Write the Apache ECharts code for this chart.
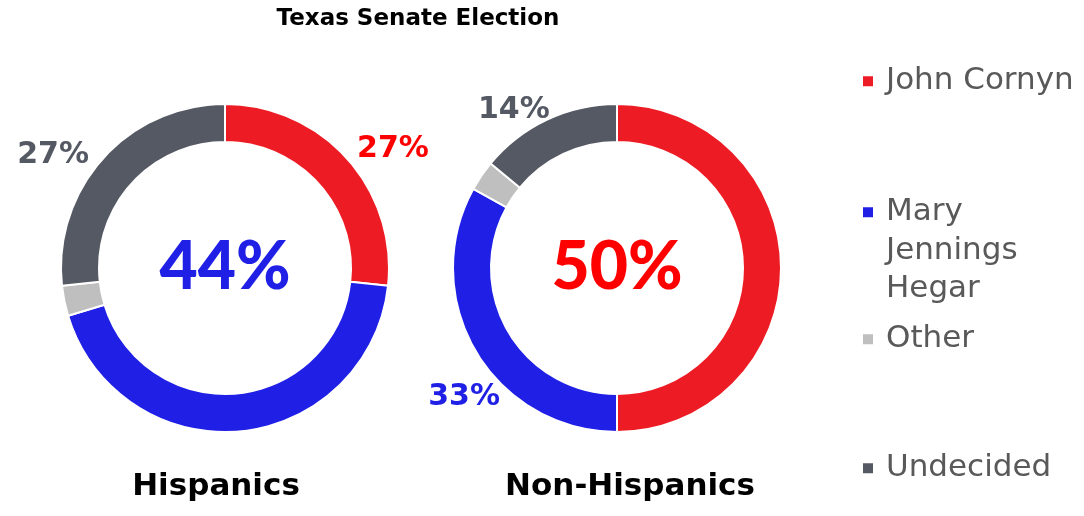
<!DOCTYPE html>
<html>
<head>
<meta charset="utf-8">
<script src="https://cdn.jsdelivr.net/npm/echarts@6/dist/echarts.min.js"></script>
<style>
  html, body { margin: 0; padding: 0; background: #fff; }
  #chart { width: 1084px; height: 516px; }
</style>
</head>
<body>
<div id="chart"></div>
<script>
const chartTitle = 'Texas Senate Election';
const categories = ['John Cornyn', 'Mary Jennings Hegar', 'Other', 'Undecided'];
const groupNames = ['Hispanics', 'Non-Hispanics'];
const hispanicValues = [27, 44, 3, 27];
const nonHispanicValues = [50, 33, 3, 14];
const centerIndex = [1, 0];          // slice whose value is written in the hole
const hiddenLabelIndex = 2;          // "Other" has no label

const sliceColors = ['#ED1C24', '#1F1FE6', '#BFBFBF', '#545964'];
const labelColors = ['#FF0000', '#1F1FE6', '#BFBFBF', '#545964'];
const FONT = 'DejaVu Sans';
const CENTER_FONT = 'Lato';

// small nudges of the outside labels (per slice index)
const hispanicNudge = [[-1, -4], [0, 0], [0, 0], [-3, 2]];
const nonHispanicNudge = [[0, 0], [36, 42], [0, 0], [11, -2]];

function buildData(values, cIdx) {
  return values.map((v, i) => {
    const item = { name: categories[i], value: v, itemStyle: { color: sliceColors[i] } };
    if (i === hiddenLabelIndex) {
      item.label = { show: false };
    } else if (i === cIdx) {
      item.label = { show: true, position: 'center', fontSize: 66, fontWeight: 900, color: labelColors[i], fontFamily: CENTER_FONT };
    } else {
      item.label = { show: true, position: 'outside', fontSize: 30, fontWeight: 'bold', color: labelColors[i], fontFamily: FONT };
    }
    return item;
  });
}

function pieSeries(values, cIdx, cx, name, nudge) {
  return {
    type: 'pie',
    name: name,
    center: [cx, 268],
    radius: [126, 164],
    startAngle: 90,
    clockwise: true,
    avoidLabelOverlap: false,
    silent: true,
    itemStyle: { borderColor: '#fff', borderWidth: 2 },
    label: { formatter: p => Math.round(p.value) + '%' },
    labelLine: { show: false, length: 8, length2: 0 },
    labelLayout: p => ({ dx: nudge[p.dataIndex][0], dy: nudge[p.dataIndex][1] }),
    data: buildData(values, cIdx)
  };
}

const legendTops = [57, 111, 315, 444];

const chart = echarts.init(document.getElementById('chart'));
chart.setOption({
  animation: false,
  title: [
    { text: chartTitle, left: 418, top: 8, textAlign: 'center', padding: 0,
      textStyle: { fontFamily: FONT, fontSize: 23, fontWeight: 'bold', color: '#000' } },
    { text: groupNames[0], left: 216, top: 471, textAlign: 'center', padding: 0,
      textStyle: { fontFamily: FONT, fontSize: 31, fontWeight: 'bold', color: '#000' } },
    { text: groupNames[1], left: 630, top: 471, textAlign: 'center', padding: 0,
      textStyle: { fontFamily: FONT, fontSize: 31, fontWeight: 'bold', color: '#000' } }
  ],
  legend: categories.map((c, i) => ({
    data: [c],
    orient: 'vertical',
    left: 856,
    top: legendTops[i],
    itemWidth: 12,
    itemHeight: 12,
    icon: 'rect',
    selectedMode: false,
    formatter: n => n.split(' ').length > 2 ? ' \n \n' + n.split(' ').join('\n') : n,
    textStyle: { fontFamily: FONT, fontSize: 31, color: '#595959', lineHeight: 38.5, padding: [0, 0, 0, 7] }
  })),
  series: [
    pieSeries(hispanicValues, centerIndex[0], 225, groupNames[0], hispanicNudge),
    pieSeries(nonHispanicValues, centerIndex[1], 617, groupNames[1], nonHispanicNudge)
  ]
});
</script>
</body>
</html>
